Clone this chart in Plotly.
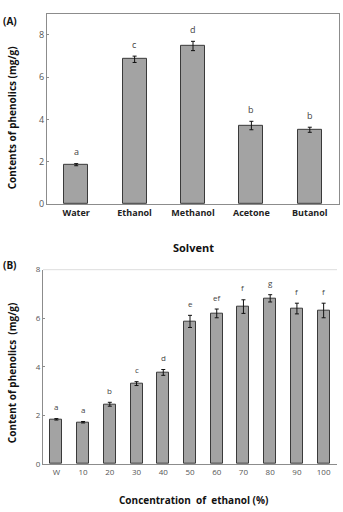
import plotly.graph_objects as go

# Panel A data
solvents = ["Water", "Ethanol", "Methanol", "Acetone", "Butanol"]
solvent_values = [1.87, 6.85, 7.48, 3.72, 3.52]
solvent_errors = [0.05, 0.15, 0.22, 0.20, 0.12]
solvent_letters = ["a", "c", "d", "b", "b"]

# Panel B data
concentrations = ["W", "10", "20", "30", "40", "50", "60", "70", "80", "90", "100"]
conc_values = [1.84, 1.72, 2.46, 3.31, 3.77, 5.87, 6.2, 6.48, 6.82, 6.4, 6.32]
conc_errors = [0.03, 0.03, 0.08, 0.08, 0.12, 0.25, 0.18, 0.28, 0.15, 0.22, 0.30]
conc_letters = ["a", "a", "b", "c", "d", "e", "ef", "f", "g", "f", "f"]

W, H = 343, 512
BAR_FILL = "#a3a3a3"
BAR_LINE = "#3a3a3a"
AXIS = "#8c8c8c"
TICKC = "#555555"
FONT = "Open Sans"

fig = go.Figure()
fig.add_trace(go.Bar(
    x=solvents, y=solvent_values, width=0.41,
    marker=dict(color=BAR_FILL, line=dict(color=BAR_LINE, width=1)),
    error_y=dict(type="data", array=solvent_errors, color="#111111", thickness=1, width=2),
    xaxis="x", yaxis="y", showlegend=False))
fig.add_trace(go.Bar(
    x=concentrations, y=conc_values, width=0.45,
    marker=dict(color=BAR_FILL, line=dict(color=BAR_LINE, width=1)),
    error_y=dict(type="data", array=conc_errors, color="#111111", thickness=1, width=2),
    xaxis="x2", yaxis="y2", showlegend=False))

ann = []
for i, (v, e, l) in enumerate(zip(solvent_values, solvent_errors, solvent_letters)):
    ann.append(dict(x=i, y=v + e, xref="x", yref="y", text=l, showarrow=False,
                    yshift=12, font=dict(family=FONT, size=9, color="#444444")))
for i, (v, e, l) in enumerate(zip(conc_values, conc_errors, conc_letters)):
    ann.append(dict(x=i, y=v + e, xref="x2", yref="y2", text=l, showarrow=False,
                    yshift=12, font=dict(family=FONT, size=8, color="#444444")))
ann.append(dict(x=1 / W, y=1 - 15 / H, xref="paper", yref="paper", text="<b>(A)</b>",
                showarrow=False, xanchor="left", yanchor="middle",
                font=dict(family=FONT, size=10, color="#111")))
ann.append(dict(x=1 / W, y=1 - 265 / H, xref="paper", yref="paper", text="<b>(B)</b>",
                showarrow=False, xanchor="left", yanchor="middle",
                font=dict(family=FONT, size=10, color="#111")))
# axis titles
ann.append(dict(x=12 / W, y=1 - 115 / H, xref="paper", yref="paper",
                xanchor="center", yanchor="middle",
                text="<b>Contents of phenolics (mg/g)</b>", textangle=-90, showarrow=False,
                font=dict(family=FONT, size=10, color="#111")))
ann.append(dict(x=193 / W, y=1 - 247 / H, xref="paper", yref="paper",
                xanchor="center", yanchor="middle",
                text="<b>Solvent</b>", showarrow=False,
                font=dict(family=FONT, size=11, color="#111")))
ann.append(dict(x=12 / W, y=1 - 376 / H, xref="paper", yref="paper",
                xanchor="center", yanchor="middle",
                text="<b>Content of phenolics  (mg/g)</b>", textangle=-90, showarrow=False,
                font=dict(family=FONT, size=10, color="#111")))
ann.append(dict(x=193 / W, y=1 - 506 / H, xref="paper", yref="paper",
                xanchor="center", yanchor="middle",
                text="<b>Concentration  of  ethanol (%)</b>", showarrow=False,
                font=dict(family=FONT, size=10, color="#111")))

fig.update_layout(
    width=W, height=H,
    margin=dict(l=0, r=0, t=0, b=0),
    paper_bgcolor="white", plot_bgcolor="white",
    annotations=ann,
    bargap=0,
    xaxis=dict(domain=[47 / W, 339 / W], anchor="y", type="category", range=[-0.5, 4.5],
               showline=True, linecolor=AXIS, linewidth=1, mirror=True,
               ticks="", showgrid=False,
               tickfont=dict(family=FONT, size=9, color="#222", weight="bold")),
    yaxis=dict(domain=[1 - 203 / H, 1 - 8 / H], anchor="x", range=[0, 9],
               tickvals=[0, 2, 4, 6, 8], showline=True, linecolor=AXIS, linewidth=1,
               mirror=True, ticks="inside", ticklen=2, tickcolor=AXIS, showgrid=False,
               zeroline=False, tickfont=dict(family=FONT, size=9, color=TICKC)),
    xaxis2=dict(domain=[43 / W, 337 / W], anchor="y2", type="category", range=[-0.5, 10.5],
                showline=True, linecolor=AXIS, linewidth=1, tickangle=0,
                ticks="", showgrid=False,
                tickfont=dict(family=FONT, size=8, color=TICKC)),
    yaxis2=dict(domain=[1 - 469 / H, 1 - 270 / H], anchor="x2", range=[0, 8],
                tickvals=[0, 2, 4, 6, 8], showline=True, linecolor=AXIS, linewidth=1,
                ticks="inside", ticklen=2, tickcolor=AXIS, showgrid=False,
                zeroline=False, tickfont=dict(family=FONT, size=8, color=TICKC)),
    shapes=[dict(type="line", xref="paper", yref="paper", x0=43 / W, x1=337 / W,
                 y0=1 - 270 / H, y1=1 - 270 / H, line=dict(color="#dddddd", width=1))],
)

fig.write_html("out.html")
